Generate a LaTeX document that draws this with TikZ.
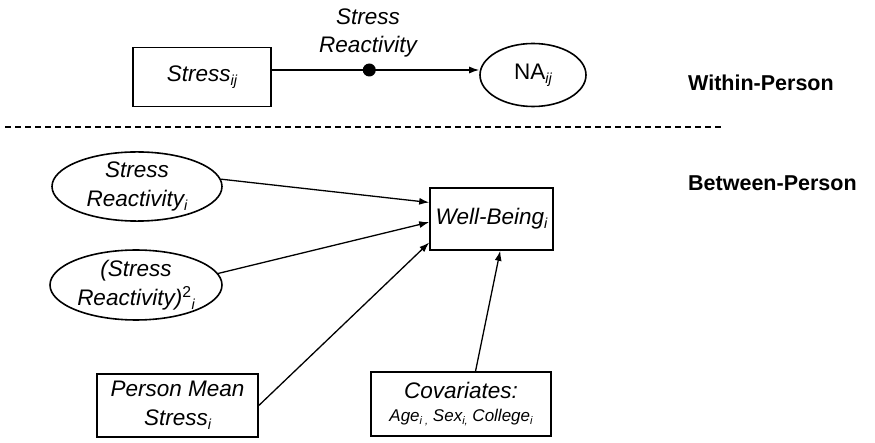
\documentclass[tikz,border=0pt]{standalone}
\usepackage{fontspec}
\setmainfont{Liberation Sans}
\usetikzlibrary{shapes.geometric,arrows.meta,calc}
\newcommand{\subsc}[1]{\raisebox{-0.35ex}{\fontsize{14.5}{14.5}\selectfont #1}}
\newcommand{\smallsubsc}[1]{\raisebox{-0.35ex}{\fontsize{11}{11}\selectfont #1}}
\begin{document}
\begin{tikzpicture}[x=1pt,y=-1pt,
  every node/.style={font=\fontsize{22.5}{28.5}\selectfont\itshape, inner sep=0pt, align=center},
  boxnode/.style={draw, line width=1.6pt, rectangle},
  ellnode/.style={draw, line width=1.6pt, ellipse},
  heading/.style={font=\fontsize{21.5}{25}\selectfont\bfseries, anchor=west},
  conn/.style={line width=1.3pt, -{Latex[length=10pt,width=7pt]}},
  dotnode/.style={circle, fill=black, minimum size=13pt}
]
\useasboundingbox (0,0) rectangle (875,443);

% within-person
\node[boxnode, minimum width=138pt, minimum height=59pt] (stressij) at (202,77) {Stress\subsc{ij}};
\node[ellnode, minimum width=106pt, minimum height=63pt] (na) at (533,75) {\upshape NA\subsc{\itshape ij}};
\coordinate (a0) at ($(stressij.east)+(0,-7)$);
\coordinate (a1) at (a0 -| na.west);
\draw[conn] (a0) -- node[dotnode, pos=0.47] (dot) {} (a1);
\node (srlabel) at (368,33) {Stress\\Reactivity};

\node[heading] (within) at (688,83) {Within-Person};
\node[heading] (between) at (688,183) {Between-Person};

\coordinate (dl) at (5,127);
\coordinate (dr) at (722,127);
\draw[line width=1.2pt, dash pattern=on 6pt off 4pt] (dl) -- (dr);

% between-person
\node[ellnode, minimum width=170pt, minimum height=65pt] (sri) at (137,186.5) {Stress\\Reactivity\subsc{i}};
\node[boxnode, minimum width=123pt, minimum height=62pt] (wb) at (491.5,219) {Well-Being\subsc{i}};
\node[ellnode, minimum width=172pt, minimum height=66pt] (sr2) at (136,285) {(Stress\\Reactivity)\textsuperscript{\upshape 2}\subsc{i}};
\node[boxnode, minimum width=161pt, minimum height=63pt] (pms) at (177.5,405.5) {Person Mean\\Stress\subsc{i}};
\node[boxnode, minimum width=180pt, minimum height=64pt] (cov) at (461,404) {Covariates:\\[-5pt]{\fontsize{17}{20}\selectfont Age\smallsubsc{i}\smallsubsc{ ,} Sex\smallsubsc{i,} College\smallsubsc{i}}};

\draw[conn] (sri.5) -- ($(wb.north west)!0.24!(wb.south west)$);
\draw[conn] (sr2.8) -- ($(wb.north west)!0.55!(wb.south west)$);
\draw[conn] (pms.east) -- ($(wb.north west)!0.87!(wb.south west)$);
\draw[conn] ($(cov.north west)!0.58!(cov.north east)$) -- ($(wb.south west)!0.57!(wb.south east)$);
\end{tikzpicture}
\end{document}
